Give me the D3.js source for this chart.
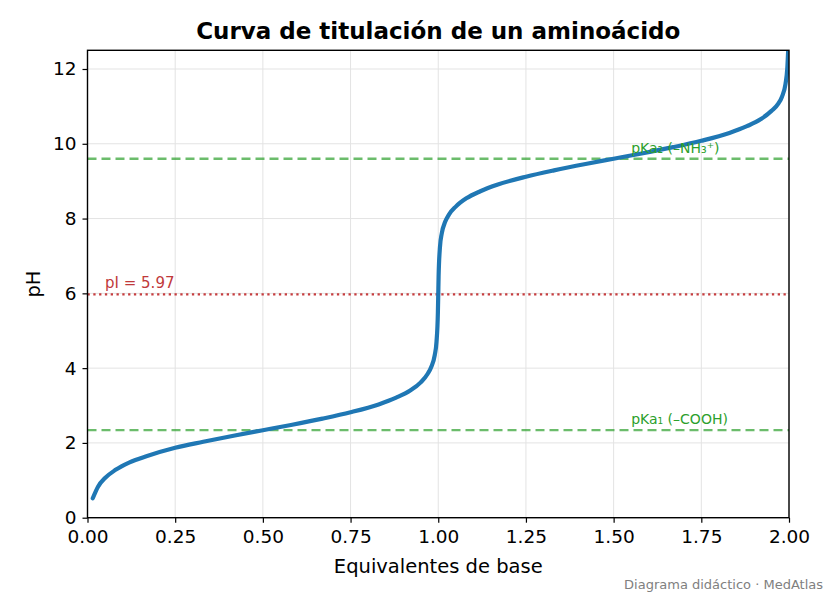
<!DOCTYPE html>
<html>
<head>
<meta charset="utf-8">
<script src="https://cdn.jsdelivr.net/npm/d3@7"></script>
<style>
  body { margin: 0; background: #fff; }
  svg { display: block; font-family: "DejaVu Sans", sans-serif; }
</style>
</head>
<body>
<svg id="chart"></svg>
<script>
// Titration curve points (equivalents of base, pH)
const equivalents = [0.015, 0.03, 0.05, 0.08, 0.12, 0.17, 0.25, 0.33, 0.42, 0.5,
    0.58, 0.67, 0.75, 0.83, 0.88, 0.92, 0.95, 0.97, 0.98, 0.99, 0.995, 0.999,
    1.0, 1.001, 1.005, 1.01, 1.02, 1.03, 1.05, 1.08, 1.12, 1.17, 1.25, 1.33,
    1.42, 1.5, 1.58, 1.67, 1.75, 1.83, 1.88, 1.92, 1.95, 1.97, 1.98, 1.99,
    1.995, 1.999];
const phValues = [0.52, 0.83, 1.06, 1.28, 1.48, 1.65, 1.87, 2.03, 2.2, 2.34,
    2.48, 2.65, 2.82, 3.03, 3.21, 3.4, 3.62, 3.85, 4.03, 4.35, 4.7, 5.5,
    5.97, 6.45, 7.25, 7.6, 7.92, 8.1, 8.32, 8.54, 8.73, 8.91, 9.12, 9.29,
    9.46, 9.6, 9.74, 9.91, 10.08, 10.29, 10.47, 10.66, 10.88, 11.08, 11.26, 11.6,
    12.0, 12.8];

// Reference lines
const refLines = [
    { value: 2.34, label: "pKa\u2081 (\u2013COOH)", kind: "pka" },
    { value: 9.6, label: "pKa\u2082 (\u2013NH\u2083\u207A)", kind: "pka" },
    { value: 5.97, label: "pI = 5.97", kind: "pi" }
];

const xTicks = [0, 0.25, 0.5, 0.75, 1, 1.25, 1.5, 1.75, 2];
const yTicks = [0, 2, 4, 6, 8, 10, 12];

const width = 832;
const height = 598;
const margin = { top: 50.3, right: 43, bottom: 80.3, left: 87.5 };
const innerW = width - margin.left - margin.right;
const innerH = height - margin.top - margin.bottom;

const svg = d3.select("#chart")
    .attr("width", width)
    .attr("height", height);

const x = d3.scaleLinear().domain([0, 2]).range([0, innerW]);
const y = d3.scaleLinear().domain([0, 12.5]).range([innerH, 0]);

const g = svg.append("g")
    .attr("transform", `translate(${margin.left},${margin.top})`);

svg.append("defs").append("clipPath")
    .attr("id", "plot-clip")
    .append("rect")
    .attr("width", innerW)
    .attr("height", innerH);

// Grid
g.append("g")
    .selectAll("line")
    .data(xTicks)
    .join("line")
    .attr("x1", d => x(d)).attr("x2", d => x(d))
    .attr("y1", 0).attr("y2", innerH)
    .attr("stroke", "#e3e3e3")
    .attr("stroke-width", 1);

g.append("g")
    .selectAll("line")
    .data(yTicks)
    .join("line")
    .attr("y1", d => y(d)).attr("y2", d => y(d))
    .attr("x1", 0).attr("x2", innerW)
    .attr("stroke", "#e3e3e3")
    .attr("stroke-width", 1);

const plot = g.append("g").attr("clip-path", "url(#plot-clip)");

// Horizontal reference lines
plot.selectAll("line.ref")
    .data(refLines)
    .join("line")
    .attr("class", "ref")
    .attr("x1", 0).attr("x2", innerW)
    .attr("y1", d => y(d.value)).attr("y2", d => y(d.value))
    .attr("stroke", d => d.kind === "pka" ? "#2ca02c" : "#c0282a")
    .attr("stroke-opacity", d => d.kind === "pka" ? 0.7 : 0.9)
    .attr("stroke-width", 2.3)
    .attr("stroke-dasharray", d => d.kind === "pka" ? "9,5" : "2.3,3.5");

// Titration curve
const points = equivalents.map((e, i) => [e, phValues[i]]);
plot.append("path")
    .datum(points)
    .attr("fill", "none")
    .attr("stroke", "#1f77b4")
    .attr("stroke-width", 4.2)
    .attr("stroke-linecap", "round")
    .attr("stroke-linejoin", "round")
    .attr("d", d3.line()
        .x(d => x(d[0]))
        .y(d => y(d[1]))
        .curve(d3.curveMonotoneX));

// Reference labels
g.append("g")
    .selectAll("text")
    .data(refLines)
    .join("text")
    .attr("x", d => d.kind === "pka" ? x(1.55) : x(0.05))
    .attr("y", d => y(d.value) - 6)
    .attr("fill", d => d.kind === "pka" ? "#2ca02c" : "#c0393b")
    .attr("font-size", d => d.kind === "pka" ? 14 : 15)
    .text(d => d.label);

// Axes
const xAxis = g.append("g")
    .attr("transform", `translate(0,${innerH})`)
    .call(d3.axisBottom(x).tickValues(xTicks).tickFormat(d3.format(".2f")).tickSizeOuter(0).tickSize(5).tickPadding(7));

const yAxis = g.append("g")
    .call(d3.axisLeft(y).tickValues(yTicks).tickSizeOuter(0).tickSize(5).tickPadding(6));

[xAxis, yAxis].forEach(a => {
    a.select(".domain").remove();
    a.selectAll(".tick line").attr("stroke", "#000").attr("stroke-width", 1.2);
    a.selectAll(".tick text")
        .attr("fill", "#000")
        .attr("font-size", 18.5)
        .attr("font-family", "DejaVu Sans, sans-serif");
});

// Frame
g.append("rect")
    .attr("width", innerW)
    .attr("height", innerH)
    .attr("fill", "none")
    .attr("stroke", "#000")
    .attr("stroke-width", 1.4);

// Title and axis labels
svg.append("text")
    .attr("x", margin.left + innerW / 2)
    .attr("y", 39)
    .attr("text-anchor", "middle")
    .attr("font-size", 23)
    .attr("font-weight", "bold")
    .text("Curva de titulación de un aminoácido");

svg.append("text")
    .attr("x", margin.left + innerW / 2)
    .attr("y", 573)
    .attr("text-anchor", "middle")
    .attr("font-size", 19.5)
    .text("Equivalentes de base");

svg.append("text")
    .attr("transform", `translate(40,${margin.top + innerH / 2}) rotate(-90)`)
    .attr("text-anchor", "middle")
    .attr("font-size", 19.5)
    .text("pH");

svg.append("text")
    .attr("x", 823)
    .attr("y", 589)
    .attr("text-anchor", "end")
    .attr("font-size", 13)
    .attr("fill", "#808080")
    .text("Diagrama didáctico · MedAtlas");
</script>
</body>
</html>
